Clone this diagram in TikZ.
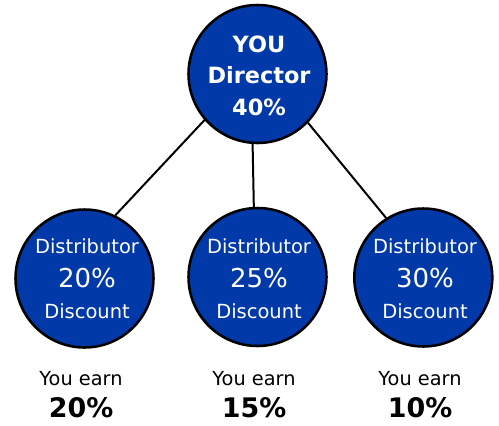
\documentclass[tikz,border=0pt]{standalone}
\usepackage{fontspec}
\setmainfont{DejaVu Sans}
\definecolor{discblue}{HTML}{0239A9}
\begin{document}
\begin{tikzpicture}[x=0.75pt,y=-0.75pt,
  disc/.style={circle,draw=black,line width=1.9pt,fill=discblue,minimum size=103.5pt,inner sep=0pt},
  link/.style={draw=black,line width=1.5pt},
  toptxt/.style={anchor=base,text=white,inner sep=0pt,font=\fontsize{16.8}{20}\selectfont\bfseries},
  smalltxt/.style={anchor=base,text=white,inner sep=0pt,font=\fontsize{14.6}{18}\selectfont},
  bigtxt/.style={anchor=base,text=white,inner sep=0pt,font=\fontsize{19.5}{23}\selectfont},
  earntxt/.style={anchor=base,text=black,inner sep=0pt,font=\fontsize{14.5}{18}\selectfont},
  pcttxt/.style={anchor=base,text=black,inner sep=0pt,font=\fontsize{20.2}{24}\selectfont\bfseries}]
\useasboundingbox (0,0) rectangle (499,425);
% circles
\node[disc] (top) at (257.5,74) {};
\node[disc] (left) at (84.5,278.5) {};
\node[disc] (mid) at (257.5,277) {};
\node[disc] (right) at (423.3,277.5) {};
% connectors
\draw[link] (top.221.6) -- (left.64);
\draw[link] (top.266.3) -- (mid.93.7);
\draw[link] (top.316) -- (right.122);
% top text
\node[toptxt] (t1) at (259,52) {YOU};
\node[toptxt] (t2) at (259,83) {Director};
\node[toptxt] (t3) at (259,115) {40\%};
% left
\node[smalltxt] (l1) at (87,253) {Distributor};
\node[bigtxt] (l2) at (87,287) {20\%};
\node[smalltxt] (l3) at (87,318) {Discount};
% middle
\node[smalltxt] (m1) at (259,253) {Distributor};
\node[bigtxt] (m2) at (259,287) {25\%};
\node[smalltxt] (m3) at (259,318) {Discount};
% right
\node[smalltxt] (r1) at (425,253) {Distributor};
\node[bigtxt] (r2) at (425,287) {30\%};
\node[smalltxt] (r3) at (425,318) {Discount};
% bottom
\node[earntxt] (e1) at (81,385) {You earn};
\node[pcttxt] (p1) at (81,417) {20\%};
\node[earntxt] (e2) at (254,385) {You earn};
\node[pcttxt] (p2) at (254,417) {15\%};
\node[earntxt] (e3) at (420,385) {You earn};
\node[pcttxt] (p3) at (420,417) {10\%};
\end{tikzpicture}
\end{document}
